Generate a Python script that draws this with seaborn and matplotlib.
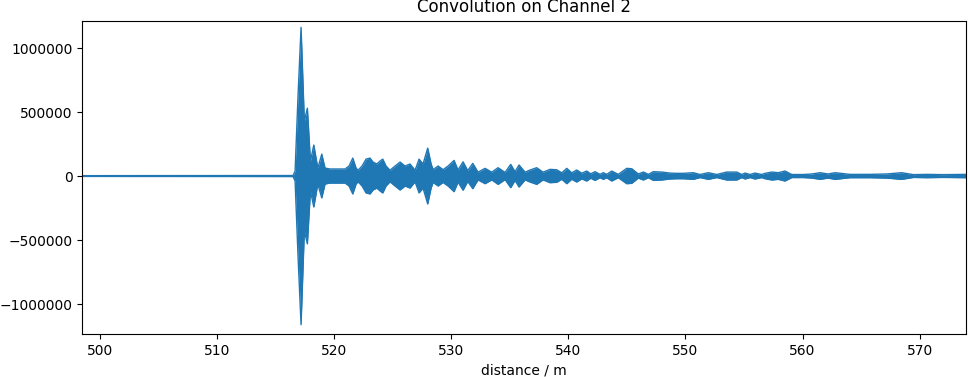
import numpy as np
import pandas as pd
import matplotlib
matplotlib.use("Agg")
import matplotlib.pyplot as plt
import seaborn as sns

# Envelope of the convolved signal
distance = [
    498.45, 516.48, 516.65, 516.90, 517.16, 517.44, 517.70, 517.96, 518.25, 518.59,
    518.93, 519.21, 519.64, 520.92, 521.26, 521.58, 521.86, 522.03, 522.37, 522.71,
    523.05, 523.31, 523.63, 523.91, 524.14, 524.42, 524.76, 525.19, 525.62, 526.04,
    526.47, 526.90, 527.24, 527.58, 527.98, 528.27, 528.44, 528.87, 529.29, 529.72,
    530.23, 530.57, 531.00, 531.40, 531.83, 532.28, 532.88, 533.45, 533.99, 534.59,
    535.07, 535.44, 535.78, 536.30, 536.64, 537.29, 537.83, 538.43, 539.00, 539.43,
    539.86, 540.28, 540.71, 541.14, 541.56, 541.91, 542.27, 542.70, 542.98, 543.27,
    543.70, 544.26, 544.98, 545.41, 545.97, 546.40, 546.83, 547.25, 547.97, 548.68,
    549.25, 549.82, 550.67, 551.24, 551.95, 552.67, 553.52, 554.38, 554.81, 555.09,
    555.52, 555.94, 556.51, 556.80, 557.37, 557.93, 558.50, 559.08, 560.07, 560.81,
    561.50, 562.18, 562.78, 564.06, 565.77, 567.19, 568.47, 569.46, 570.61, 572.02,
    573.96,
]
amplitude = [
    3000, 4000, 39000, 624000, 1161000, 429000, 530000, 117000, 242000, 62000,
    171000, 62000, 55000, 55000, 78000, 140000, 62000, 45000, 78000, 132000,
    140000, 109000, 94000, 117000, 132000, 78000, 45000, 78000, 109000, 78000,
    94000, 45000, 132000, 94000, 218000, 94000, 50000, 78000, 50000, 78000,
    122000, 47000, 111000, 42000, 99000, 30000, 60000, 30000, 65000, 28000,
    91000, 34000, 86000, 30000, 44000, 65000, 30000, 52000, 49000, 25000,
    60000, 25000, 47000, 22000, 39000, 17000, 34000, 13000, 26000, 13000,
    39000, 13000, 60000, 57000, 16000, 31000, 13000, 34000, 31000, 23000,
    21000, 21000, 26000, 12000, 26000, 12000, 31000, 31000, 12000, 23000,
    12000, 23000, 12000, 21000, 31000, 26000, 39000, 12000, 12000, 16000,
    26000, 16000, 26000, 13000, 13000, 16000, 26000, 11000, 13000, 11000,
    13000,
]

df = pd.DataFrame({"distance": distance, "upper": amplitude})
df["lower"] = -df["upper"]

blue = "#1f77b4"

fig, ax = plt.subplots(figsize=(9.68, 3.77), dpi=100)
fig.subplots_adjust(left=0.085, right=0.998, bottom=0.114, top=0.945)

sns.lineplot(data=df, x="distance", y="upper", color=blue, lw=1.0, ax=ax,
             estimator=None, sort=False)
sns.lineplot(data=df, x="distance", y="lower", color=blue, lw=1.0, ax=ax,
             estimator=None, sort=False)
ax.fill_between(df["distance"], df["lower"], df["upper"], color=blue, lw=0)

ax.set_xlim(498.47, 573.97)
ax.set_ylim(-1.234e6, 1.213e6)
ax.set_xticks([500, 510, 520, 530, 540, 550, 560, 570])
ax.set_yticks([-1000000, -500000, 0, 500000, 1000000])
ax.ticklabel_format(axis="y", style="plain", useOffset=False)

ax.set_title("Convolution on Channel 2")
ax.set_xlabel("distance / m")
ax.set_ylabel("")

plt.savefig("out.png", dpi=100)
